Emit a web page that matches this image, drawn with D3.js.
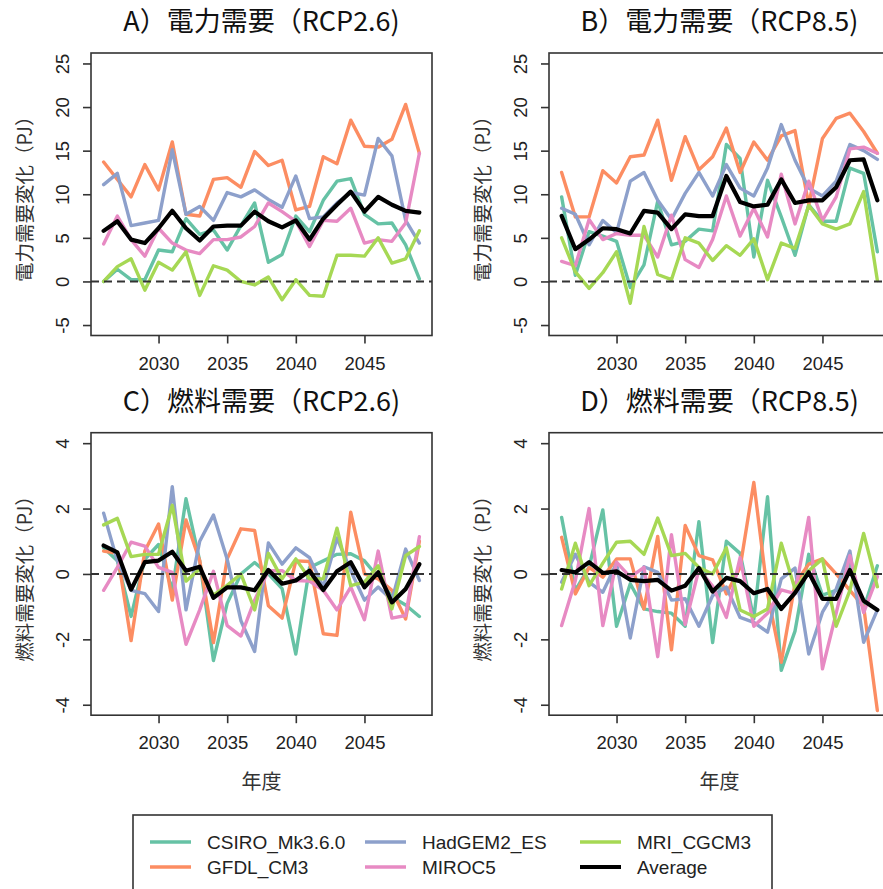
<!DOCTYPE html>
<html><head><meta charset="utf-8">
<script src="https://cdn.jsdelivr.net/npm/d3@7/dist/d3.min.js"></script>
<style>
html,body{margin:0;padding:0;background:#fff;overflow:hidden;}
svg{display:block;}
</style></head>
<body>
<script>
// ---------- data ----------
const years = d3.range(2026, 2050);
const models = ["CSIRO_Mk3.6.0","GFDL_CM3","HadGEM2_ES","MIROC5","MRI_CGCM3","Average"];
const colors = ["#66C2A5","#FC8D62","#8DA0CB","#E78AC3","#A6D854","#000000"];

const titles = ["A）電力需要（RCP2.6)","B）電力需要（RCP8.5)","C）燃料需要（RCP2.6)","D）燃料需要（RCP8.5)"];
const yLabels = ["電力需要変化（PJ）","燃料需要変化（PJ）"];
const xLabel = "年度";
const xTicks = [2030, 2035, 2040, 2045];
const yTicksTop = [-5, 0, 5, 10, 15, 20, 25];
const yTicksBottom = [-4, -2, 0, 2, 4];

// Panel A: electricity demand, RCP2.6
const elecRcp26_CSIRO  = [0,1.4,0.2,0.2,3.6,3.4,7.2,5.4,5.9,3.6,6.4,9.0,2.2,3.1,7.5,5.7,9.3,11.5,11.8,7.7,6.6,6.7,4.2,0.3];
const elecRcp26_GFDL   = [13.7,11.7,9.7,13.4,10.5,16.0,7.7,7.5,11.7,11.9,10.8,14.9,13.3,13.9,8.2,8.6,14.3,13.5,18.5,15.5,15.4,16.3,20.3,14.7];
const elecRcp26_HadGEM = [11.1,12.4,6.4,6.7,7.0,15.1,7.7,8.6,7.0,10.2,9.7,10.5,9.4,8.5,12.1,7.2,7.4,9.0,10.2,9.9,16.4,14.4,7.0,4.4];
const elecRcp26_MIROC  = [4.3,7.5,4.8,2.9,6.1,4.4,3.6,3.2,4.8,4.8,5.1,6.3,9.0,8.0,6.9,4.0,7.0,6.9,8.4,4.4,4.8,4.6,6.7,14.7];
const elecRcp26_MRI    = [0,1.7,2.6,-1.0,2.2,1.3,3.4,-1.6,1.8,1.3,0,-0.4,0.5,-2.1,0.2,-1.6,-1.7,3.0,3.0,2.9,5.0,2.1,2.6,5.8];
const elecRcp26_Avg    = [5.8,6.9,4.8,4.4,6.1,8.1,6.1,4.7,6.3,6.4,6.4,8.0,6.9,6.2,7.0,4.8,7.2,8.8,10.3,8.0,9.7,8.8,8.1,7.9];

// Panel B: electricity demand, RCP8.5
const elecRcp85_CSIRO  = [9.7,0.7,5.7,5.2,4.6,-0.7,1.9,9.2,4.2,4.6,6.0,5.8,15.7,14.1,2.8,11.6,7.4,3.0,8.8,6.9,6.9,13.0,12.4,3.4];
const elecRcp85_GFDL   = [12.5,7.4,7.4,12.7,11.3,14.3,14.5,18.5,11.6,16.6,12.8,14.3,17.6,12.5,16.0,13.9,16.7,17.3,8.8,16.4,18.7,19.3,17.2,14.7];
const elecRcp85_HadGEM = [8.4,7.7,4.2,7.0,5.6,11.5,12.5,9.3,7.1,10.1,12.5,9.8,13.4,10.7,9.8,13.0,18.0,13.9,10.7,9.8,11.5,15.7,15.0,14.0];
const elecRcp85_MIROC  = [2.3,1.8,7.1,4.8,5.5,5.3,5.3,2.8,7.6,2.5,1.6,4.8,9.8,5.2,8.4,5.1,12.3,6.6,11.5,7.0,9.7,15.2,15.4,14.7];
const elecRcp85_MRI    = [5.0,1.1,-0.8,1.0,3.4,-2.5,6.3,0.8,0.2,5.0,4.4,2.4,4.1,3.0,4.9,0.2,4.4,3.8,8.7,6.6,6.0,6.6,10.3,0.1];
const elecRcp85_Avg    = [7.5,3.7,4.8,6.1,6.0,5.5,8.1,7.9,6.0,7.7,7.5,7.5,12.1,9.1,8.6,8.8,11.7,9.0,9.3,9.3,10.8,13.9,14.0,9.3];

// Panel C: fuel demand, RCP2.6
const fuelRcp26_CSIRO  = [0.8,0.4,-1.3,0.45,0.9,-0.5,2.3,0.4,-2.65,-0.9,0,0.35,0,-0.45,-2.45,0.2,0.4,0.6,0.62,0.4,-0.1,-0.7,-0.95,-1.3];
const fuelRcp26_GFDL   = [0.7,0.63,-2.04,0.7,1.53,-0.8,1.65,0.4,-2.1,0.46,1.38,1.33,-0.97,-1.35,0.4,0.38,-1.83,-1.88,1.89,0,-0.15,-0.5,-1.38,1.0];
const fuelRcp26_HadGEM = [1.86,0.4,-0.5,-0.6,-1.15,2.67,-1.1,1.0,1.8,0.45,-1.43,-2.37,0.95,0.3,0.8,0.5,-0.4,1.1,0.1,-0.8,-0.4,-0.8,0.76,-0.2];
const fuelRcp26_MIROC  = [-0.5,0.2,0.97,0.85,0.2,0.05,-2.15,-1.1,0.08,-1.58,-1.9,-0.8,0.1,0.1,-0.2,-0.22,-0.5,-1.1,-0.4,-1.4,0.7,-1.35,-1.27,1.14];
const fuelRcp26_MRI    = [1.5,1.7,0.53,0.6,0.6,2.1,-0.22,0.15,-0.65,-0.35,0,-1.1,0.63,-0.15,0.46,-0.15,-0.15,1.4,-0.36,-0.25,0.25,-1.07,0.56,0.84];
const fuelRcp26_Avg    = [0.87,0.66,-0.48,0.36,0.41,0.68,0.1,0.22,-0.73,-0.41,-0.41,-0.5,0.12,-0.3,-0.2,0.1,-0.49,0.08,0.36,-0.41,0.05,-0.87,-0.46,0.3];

// Panel D: fuel demand, RCP8.5
const fuelRcp85_CSIRO  = [1.73,-0.5,0.21,1.96,-1.6,-0.3,-1.07,-1.15,-1.2,-1.6,1.6,-2.1,1.0,0.63,-1.37,2.36,-2.95,-1.75,0.6,-0.65,-0.5,0.3,-1.07,0.25];
const fuelRcp85_GFDL   = [1.12,-0.61,0.2,-0.1,0.46,0.46,-1.07,1.15,-2.32,1.48,0.56,0.43,-0.61,0.2,2.8,-0.6,-2.7,-0.3,0.3,0.46,0,-0.5,-1.0,-4.18];
const fuelRcp85_HadGEM = [-0.25,0.6,-0.25,-0.56,0.33,-1.96,0.22,0.05,-0.8,-0.76,-1.6,-0.66,-0.4,-1.33,-1.48,-1.78,-0.15,0.18,-2.45,-1.17,-0.46,0.7,-2.09,-1.1];
const fuelRcp85_MIROC  = [-1.58,-0.2,2.0,-1.58,0.36,-0.1,0.2,-2.53,1.2,-1.55,0.14,-0.37,-1.33,0.5,-1.6,-1.2,-0.49,-0.6,1.73,-2.9,-1.2,0.56,-1.18,-0.08];
const fuelRcp85_MRI    = [-0.46,0.94,-0.36,0.33,0.97,1.0,0.6,1.71,0.56,0.63,0.2,0,0.8,-1.1,-1.3,-1.07,0.94,-0.46,0.1,0.46,-1.6,-0.5,1.24,-0.39];
const fuelRcp85_Avg    = [0.12,0.05,0.36,0.03,0.08,-0.18,-0.22,-0.18,-0.51,-0.36,0.18,-0.54,-0.12,-0.22,-0.59,-0.46,-1.07,-0.58,0.05,-0.76,-0.76,0.12,-0.82,-1.1];

const panelSeries = [
  [elecRcp26_CSIRO, elecRcp26_GFDL, elecRcp26_HadGEM, elecRcp26_MIROC, elecRcp26_MRI, elecRcp26_Avg],
  [elecRcp85_CSIRO, elecRcp85_GFDL, elecRcp85_HadGEM, elecRcp85_MIROC, elecRcp85_MRI, elecRcp85_Avg],
  [fuelRcp26_CSIRO, fuelRcp26_GFDL, fuelRcp26_HadGEM, fuelRcp26_MIROC, fuelRcp26_MRI, fuelRcp26_Avg],
  [fuelRcp85_CSIRO, fuelRcp85_GFDL, fuelRcp85_HadGEM, fuelRcp85_MIROC, fuelRcp85_MRI, fuelRcp85_Avg]
];

// ---------- layout ----------
const W = 883, H = 889;
const svg = d3.select("body").append("svg").attr("width", W).attr("height", H);

const boxW = 341, boxH = 282.5;
const colX = [91, 549], rowY = [53, 432.7];
const latin = "'Liberation Sans', Arial, sans-serif";
const cjk = "'Noto Sans CJK JP', 'Noto Sans CJK SC', sans-serif";
const pad = (a, b) => { const r = (b - a) * 0.04; return [a - r, b + r]; };

panelSeries.forEach((series, p) => {
  const col = p % 2, row = Math.floor(p / 2);
  const g = svg.append("g").attr("transform", `translate(${colX[col]},${rowY[row]})`);
  const x = d3.scaleLinear().domain(pad(2026, 2049)).range([0, boxW]);
  const yT = row === 0 ? yTicksTop : yTicksBottom;
  const y = d3.scaleLinear().domain(pad(yT[0], yT[yT.length - 1])).range([boxH, 0]);

  const line = d3.line().x((d, i) => x(years[i])).y(d => y(d));

  // colored series
  series.slice(0, 5).forEach((s, k) => {
    g.append("path").attr("d", line(s)).attr("fill", "none")
      .attr("stroke", colors[k]).attr("stroke-width", 3.4)
      .attr("stroke-linejoin", "round").attr("stroke-linecap", "round");
  });
  // zero reference
  g.append("line").attr("x1", 0).attr("x2", boxW).attr("y1", y(0)).attr("y2", y(0))
    .attr("stroke", "#333").attr("stroke-width", 2).attr("stroke-dasharray", "8,5");
  // average
  g.append("path").attr("d", line(series[5])).attr("fill", "none")
    .attr("stroke", colors[5]).attr("stroke-width", 4.2)
    .attr("stroke-linejoin", "round").attr("stroke-linecap", "round");

  // box
  g.append("rect").attr("x", 0).attr("y", 0).attr("width", boxW).attr("height", boxH)
    .attr("fill", "none").attr("stroke", "#333").attr("stroke-width", 1.6);

  // x axis
  const xa = g.append("g").attr("transform", `translate(0,${boxH})`)
    .call(d3.axisBottom(x).tickValues(xTicks).tickSize(8).tickPadding(13).tickFormat(d3.format("d")));
  xa.select(".domain").remove();
  xa.selectAll("line").attr("stroke", "#333").attr("stroke-width", 1.6);
  xa.selectAll("text").attr("font-family", latin).attr("font-size", 18.5).attr("fill", "#222");

  // y axis (labels rotated as in base R)
  const ya = g.append("g").call(d3.axisLeft(y).tickValues(yT).tickSize(8).tickFormat(d => String(d)));
  ya.select(".domain").remove();
  ya.selectAll("line").attr("stroke", "#333").attr("stroke-width", 1.6);
  ya.selectAll("text").attr("font-family", latin).attr("font-size", 18.5).attr("fill", "#222")
    .attr("x", null).attr("text-anchor", "middle")
    .attr("transform", "translate(-28,0) rotate(-90)").attr("dy", "0.35em");

  // title
  g.append("text").attr("x", boxW / 2).attr("y", -22).attr("text-anchor", "middle")
    .attr("font-family", cjk).attr("font-size", 27).attr("fill", "#111").text(titles[p]);

  // y label
  g.append("text").attr("transform", `translate(-66,${boxH / 2}) rotate(-90)`)
    .attr("text-anchor", "middle").attr("dy", "0.35em")
    .attr("font-family", cjk).attr("font-size", 19.5).attr("fill", "#333").text(yLabels[row]);

  if (row === 1) {
    g.append("text").attr("x", boxW / 2).attr("y", boxH + 67).attr("text-anchor", "middle")
      .attr("dy", "0.35em").attr("font-family", cjk).attr("font-size", 20).attr("fill", "#333").text(xLabel);
  }
});

// ---------- legend ----------
const lg = svg.append("g").attr("transform", "translate(133,815)");
lg.append("rect").attr("x", 0).attr("y", 0).attr("width", 639).attr("height", 90)
  .attr("fill", "none").attr("stroke", "#333").attr("stroke-width", 1.6);
models.forEach((name, k) => {
  const c = Math.floor(k / 2), r = k % 2;
  const lx = 17 + c * 215, ly = 27 + r * 25;
  lg.append("line").attr("x1", lx).attr("x2", lx + 41).attr("y1", ly).attr("y2", ly)
    .attr("stroke", colors[k]).attr("stroke-width", k === 5 ? 4.2 : 3.4);
  lg.append("text").attr("x", lx + 57).attr("y", ly).attr("dy", "0.35em")
    .attr("font-family", latin).attr("font-size", 19).attr("fill", "#222").text(name);
});
</script>
</body></html>
